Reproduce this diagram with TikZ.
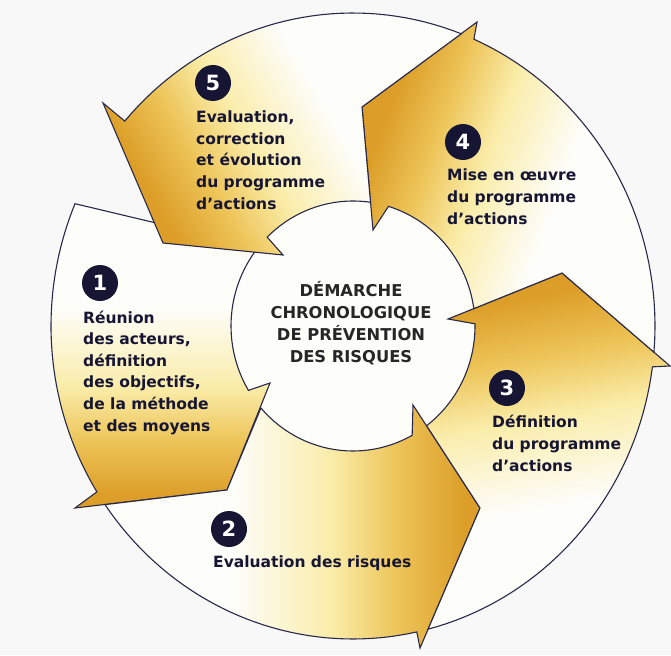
\documentclass[tikz,border=0pt]{standalone}
\usepackage{fontspec}
\newfontfamily\djfont{DejaVu Sans}
\definecolor{bg}{RGB}{248,248,248}
\definecolor{navy}{RGB}{22,22,52}
\definecolor{linec}{RGB}{40,40,75}
\definecolor{gold}{RGB}{220,158,40}
\definecolor{gmid}{RGB}{237,196,88}
\definecolor{gpale}{RGB}{250,237,170}
\definecolor{wht}{RGB}{253,253,250}
\pgfdeclareverticalshading{goldfade}{100bp}{color(0bp)=(wht); color(42bp)=(wht); color(55bp)=(gpale); color(64bp)=(gmid); color(73bp)=(gold); color(100bp)=(gold)}
\tikzset{
  arrowbox/.style={shading=goldfade, draw=linec, line width=1.1pt, line join=miter},
  numdot/.style={circle, fill=navy, minimum size=36pt, inner sep=0pt, text=white, font=\djfont\bfseries\fontsize{21}{21}\selectfont},
  lbl/.style={inner sep=0pt, anchor=base west, align=left, text=navy, font=\djfont\bfseries\fontsize{15.5}{21.6}\selectfont},
  ctr/.style={inner sep=0pt, anchor=base, align=center, text=black!85, font=\djfont\bfseries\fontsize{16.3}{21.7}\selectfont}
}
\begin{document}
\begin{tikzpicture}[x=1pt,y=-1pt]
\useasboundingbox (0,0) rectangle (671,655);
\fill[bg] (0,0) rectangle (671,655);
% centre disk
\fill[wht] (353,326) ellipse [x radius=122, y radius=125];
% head points
\coordinate (B1) at (75,508);  \coordinate (T1) at (227,490); \coordinate (C1) at (270,383);
\coordinate (B2) at (420,648); \coordinate (T2) at (480,508); \coordinate (C2) at (413,405);
\coordinate (B3) at (670,366); \coordinate (T3) at (562,273); \coordinate (C3) at (448,319);
\coordinate (B4) at (477,22);  \coordinate (T4) at (362,107); \coordinate (C4) at (373,230);
\coordinate (B5) at (103,103); \coordinate (T5) at (163,243); \coordinate (C5) at (283,255);
% arrow 1
\shadedraw[arrowbox, shading angle=180]
  plot[domain=203:148,samples=40] ({353+302*cos(\x)},{326+313*sin(\x)})
  -- (B1) -- (T1) -- (C1)
  -- plot[domain=149:219,samples=30] ({353+122*cos(\x)},{326+125*sin(\x)})
  -- cycle;
% arrow 2
\shadedraw[arrowbox, shading angle=-90]
  plot[domain=145.2:77.8,samples=40] ({353+302*cos(\x)},{326+313*sin(\x)})
  -- (B2) -- (T2) -- (C2)
  -- plot[domain=61:139,samples=30] ({353+122*cos(\x)},{326+125*sin(\x)})
  -- (T1) -- cycle;
% arrow 3
\shadedraw[arrowbox, shading angle=10]
  plot[domain=75.6:7.5,samples=40] ({353+302*cos(\x)},{326+313*sin(\x)})
  -- (B3) -- (T3) -- (C3)
  -- plot[domain=-1:52.9,samples=30] ({353+122*cos(\x)},{326+125*sin(\x)})
  -- (T2) -- cycle;
% arrow 4
\shadedraw[arrowbox, shading angle=70]
  plot[domain=4.8:-66.4,samples=40] ({353+302*cos(\x)},{326+313*sin(\x)})
  -- (B4) -- (T4) -- (C4)
  -- plot[domain=-73.1:-8,samples=30] ({353+122*cos(\x)},{326+125*sin(\x)})
  -- (T3) -- cycle;
% arrow 5
\shadedraw[arrowbox, shading angle=120]
  plot[domain=-69:-139.1,samples=40] ({353+302*cos(\x)},{326+313*sin(\x)})
  -- (B5) -- (T5) -- (C5)
  -- plot[domain=-134.7:-81.75,samples=30] ({353+122*cos(\x)},{326+125*sin(\x)})
  -- (T4) -- cycle;
% numbers
\node[numdot] (n1) at (100,283) {1};
\node[numdot] (n2) at (229,529) {2};
\node[numdot] (n3) at (507,388) {3};
\node[numdot] (n4) at (463,142) {4};
\node[numdot] (n5) at (213,83) {5};
% labels (anchored at the baseline of their last line)
\node[lbl] (t1) at (83,431) {Réunion\\des acteurs,\\définition\\des objectifs,\\de la méthode\\et des moyens};
\node[lbl] (t2) at (213,567) {Evaluation des risques};
\node[lbl] (t3) at (492,471) {Définition\\du programme\\d’actions};
\node[lbl] (t4) at (447,224) {Mise en œuvre\\du programme\\d’actions};
\node[lbl] (t5) at (196,209) {Evaluation,\\correction\\et évolution\\du programme\\d’actions};
\node[ctr] (tc) at (351,362) {DÉMARCHE\\CHRONOLOGIQUE\\DE PRÉVENTION\\DES RISQUES};
\end{tikzpicture}
\end{document}
